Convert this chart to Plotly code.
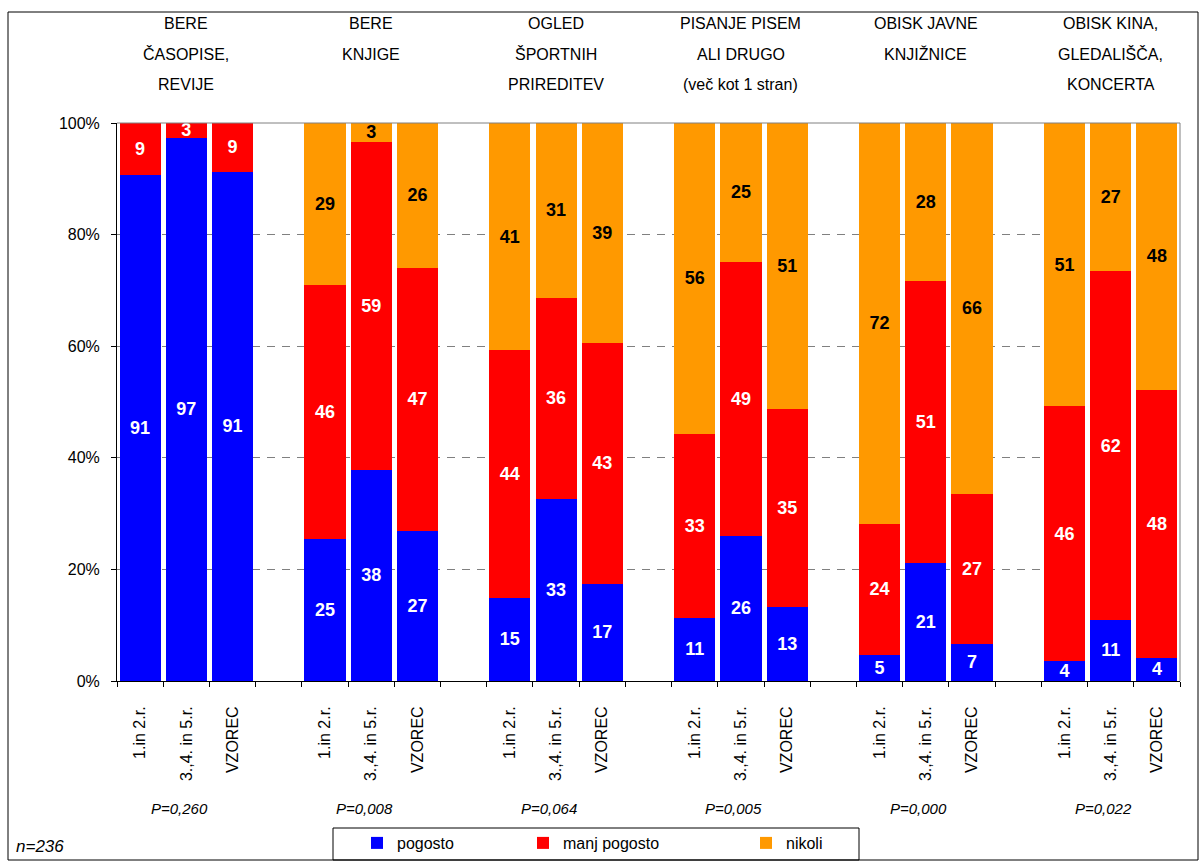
import plotly.graph_objects as go

# ---------------- data ----------------
group_titles = [
    ["BERE", "ČASOPISE,", "REVIJE"],
    ["BERE", "KNJIGE", ""],
    ["OGLED", "ŠPORTNIH", "PRIREDITEV"],
    ["PISANJE PISEM", "ALI DRUGO", "(več kot 1 stran)"],
    ["OBISK JAVNE", "KNJIŽNICE", ""],
    ["OBISK KINA,", "GLEDALIŠČA,", "KONCERTA"],
]
subgroups = ["1.in 2.r.", "3.,4. in 5.r.", "VZOREC"]
p_values = ["P=0,260", "P=0,008", "P=0,064", "P=0,005", "P=0,000", "P=0,022"]
series_names = ["pogosto", "manj pogosto", "nikoli"]
series_colors = ["#0000FF", "#FF0000", "#FF9900"]
label_colors = ["white", "white", "black"]

pogosto = [90.6, 97.4, 91.3, 25.4, 37.9, 26.8, 14.9, 32.6, 17.4,
           11.3, 26.0, 13.3, 4.6, 21.1, 6.7, 3.6, 11.0, 4.2]
manj_pogosto = [9.4, 2.6, 8.7, 45.6, 58.7, 47.3, 44.4, 36.1, 43.2,
                33.0, 49.1, 35.4, 23.6, 50.6, 26.9, 45.6, 62.4, 48.0]
nikoli = [0.0, 0.0, 0.0, 29.0, 3.4, 25.9, 40.7, 31.3, 39.4,
          55.7, 24.9, 51.3, 71.8, 28.3, 66.4, 50.8, 26.6, 47.8]
series_values = [pogosto, manj_pogosto, nikoli]
sample_note = "n=236"

# ---------------- layout helpers ----------------
W, H = 1202, 862
L, R, T, B = 117, 1180, 123, 681
SLOTS_PER_GROUP = len(subgroups) + 1
n_groups = len(group_titles)


def px_x(x):
    return (x - L) / (R - L)


def px_y(y):
    return (B - y) / (B - T)


FONT = "Arial, Liberation Sans, sans-serif"

# x positions: each group occupies len(subgroups) slots followed by an empty slot
xpos = [g * SLOTS_PER_GROUP + i for g in range(n_groups) for i in range(len(subgroups))]
xlabels = [subgroups[i] for g in range(n_groups) for i in range(len(subgroups))]
n_slots = n_groups * SLOTS_PER_GROUP - 1

fig = go.Figure()
legend_ids = ["legend", "legend2", "legend3"]
for k, (name, vals) in enumerate(zip(series_names, series_values)):
    fig.add_trace(go.Bar(
        x=xpos, y=vals, name=name,
        marker=dict(color=series_colors[k], line=dict(width=0)),
        text=[f"{v:.0f}" if v > 0 else "" for v in vals],
        texttemplate="%{text}",
        textposition="inside",
        insidetextanchor="middle",
        textangle=0,
        textfont=dict(family=FONT, size=18, color=label_colors[k], weight="bold"),
        legend=legend_ids[k],
        hoverinfo="skip",
    ))

annotations = []
title_line_y = [24, 54, 84]
for g, lines in enumerate(group_titles):
    for j, line in enumerate(lines):
        if not line:
            continue
        annotations.append(dict(
            x=g * SLOTS_PER_GROUP + 1, xref="x",
            y=px_y(title_line_y[j]), yref="paper",
            text=line, showarrow=False, xanchor="center", yanchor="middle",
            font=dict(family=FONT, size=16, color="black"),
        ))
    annotations.append(dict(
        x=g * SLOTS_PER_GROUP + 1, xref="x", xshift=-7,
        y=px_y(808), yref="paper",
        text=f"<i>{p_values[g]}</i>", showarrow=False, xanchor="center", yanchor="middle",
        font=dict(family=FONT, size=15, color="black"),
    ))
annotations.append(dict(
    x=px_x(14), xref="paper", y=px_y(846), yref="paper",
    text=f"<i>{sample_note}</i>", showarrow=False, xanchor="left", yanchor="middle",
    font=dict(family=FONT, size=17, color="black"),
))

shapes = [
    # outer frame
    dict(type="rect", xref="paper", yref="paper",
         x0=px_x(8), x1=px_x(1198), y0=px_y(12), y1=px_y(860),
         line=dict(color="black", width=1), layer="below"),
    # plot top and right borders
    dict(type="line", xref="paper", yref="paper", x0=0, x1=1, y0=1, y1=1,
         line=dict(color="#808080", width=1)),
    dict(type="line", xref="paper", yref="paper", x0=1, x1=1, y0=0, y1=1,
         line=dict(color="#808080", width=1)),
    # legend box
    dict(type="rect", xref="paper", yref="paper",
         x0=px_x(333), x1=px_x(859), y0=px_y(828), y1=px_y(860),
         line=dict(color="black", width=1)),
]

legend_common = dict(orientation="h", yanchor="middle", y=px_y(843), xanchor="left",
                     font=dict(family=FONT, size=16, color="black"),
                     bgcolor="rgba(0,0,0,0)", borderwidth=0, itemclick=False)
legend_x_px = [357, 523, 746]

fig.update_layout(
    width=W, height=H,
    margin=dict(l=L, r=W - R, t=T, b=H - B, pad=0, autoexpand=False),
    paper_bgcolor="white", plot_bgcolor="white",
    barmode="stack", bargap=0.11,
    showlegend=True,
    legend=dict(x=px_x(legend_x_px[0]), **legend_common),
    legend2=dict(x=px_x(legend_x_px[1]), **legend_common),
    legend3=dict(x=px_x(legend_x_px[2]), **legend_common),
    uniformtext=dict(minsize=18, mode="show"),
    annotations=annotations,
    shapes=shapes,
    xaxis=dict(
        range=[-0.5, n_slots - 0.5], automargin=False,
        tickmode="array", tickvals=xpos, ticktext=xlabels,
        tickangle=-90, ticks="", ticklabelstandoff=18,
        tickfont=dict(family=FONT, size=16, color="black"),
        showline=True, linecolor="black", linewidth=1,
        showgrid=False, zeroline=False,
        minor=dict(tickmode="array", tickvals=[k - 0.5 for k in range(n_slots + 1)],
                   ticks="outside", ticklen=5, tickcolor="black", tickwidth=1, showgrid=False),
        fixedrange=True,
    ),
    yaxis=dict(
        range=[0, 100], tickmode="array", tickvals=[0, 20, 40, 60, 80, 100],
        ticktext=["0%", "20%", "40%", "60%", "80%", "100%"], automargin=False,
        ticks="outside", ticklen=5, tickcolor="black", ticklabelstandoff=8,
        tickfont=dict(family=FONT, size=16, color="black"),
        showline=True, linecolor="black", linewidth=1,
        showgrid=True, gridcolor="#808080", gridwidth=1, griddash="8px,7px",
        zeroline=False, fixedrange=True,
    ),
)

fig.write_html("out.html", config={"displayModeBar": False},
               post_script="document.body.style.margin='0';document.body.style.overflow='hidden';")
